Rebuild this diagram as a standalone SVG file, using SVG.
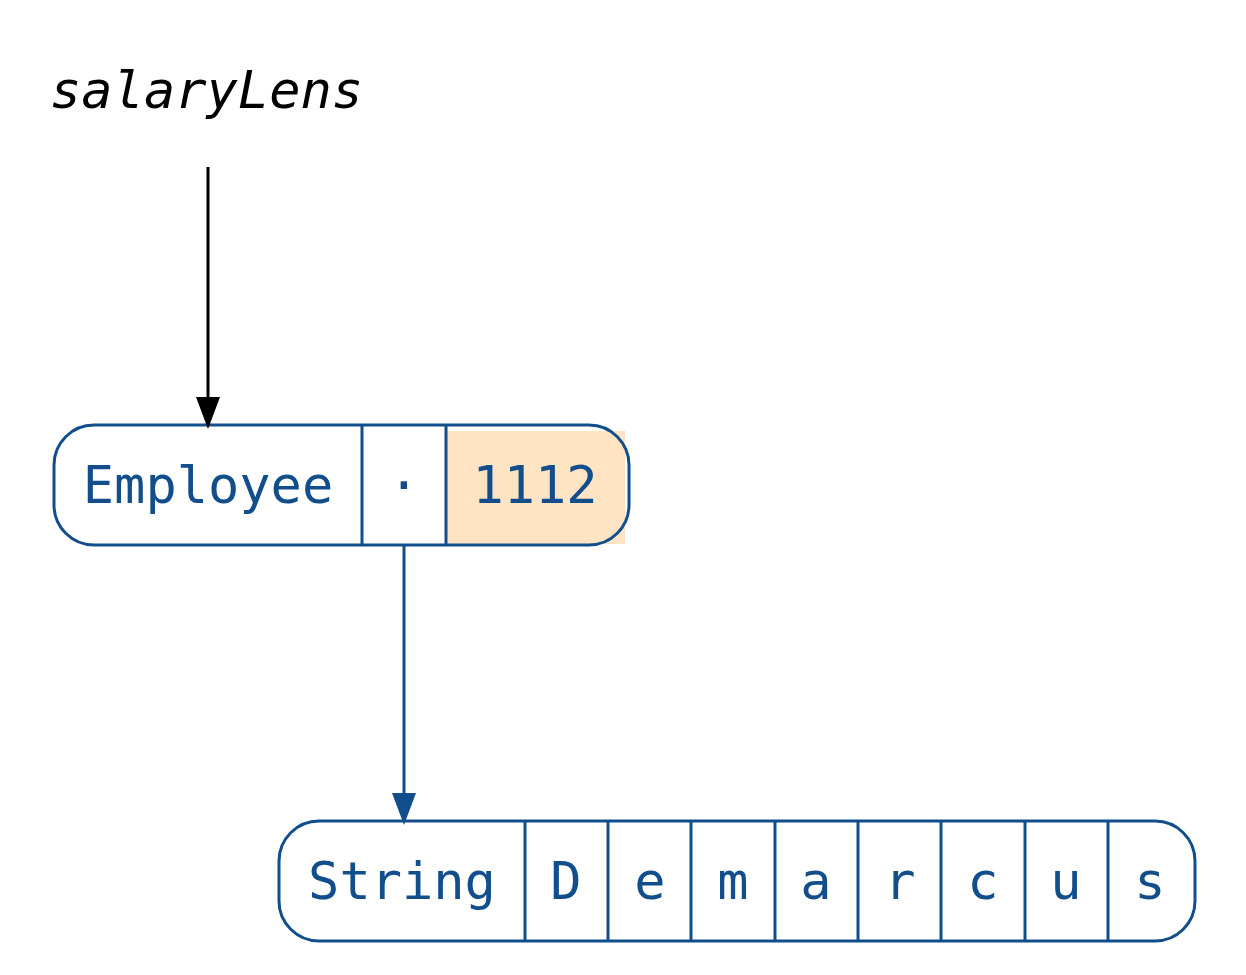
<svg xmlns="http://www.w3.org/2000/svg" width="1246" height="975" viewBox="0 0 1246 975">
<style>
.box{fill:none;stroke:#114e8b;stroke-width:3}
.div{stroke:#114e8b;stroke-width:3}
.t{font-family:"DejaVu Sans Mono",monospace;font-size:52px;fill:#114e8b;text-anchor:middle}
.lbl{font-family:"DejaVu Sans Mono",monospace;font-size:52px;font-style:italic;fill:#000}
</style>
<defs>
<marker id="ab" markerWidth="24" markerHeight="32" refX="12" refY="32" orient="auto-start-reverse" markerUnits="userSpaceOnUse" viewBox="0 0 24 32">
<path d="M0,0 L24,0 L12,32 Z" fill="#000" transform="rotate(0)"/>
</marker>
</defs>
<rect width="1246" height="975" fill="#fff"/>
<text class="lbl" x="50" y="108">salaryLens</text>
<g id="employee">
<rect x="446" y="431" width="179" height="113" fill="#ffe4c4"/>
<rect class="box" x="54" y="425" width="575" height="120" rx="40"/>
<line class="div" x1="362" y1="425" x2="362" y2="545"/>
<line class="div" x1="446" y1="425" x2="446" y2="545"/>
<text class="t" x="208" y="503">Employee</text>
<text class="t" x="404" y="503">·</text>
<text class="t" x="535" y="503">1112</text>
</g>
<g id="string">
<rect class="box" x="279" y="821" width="916" height="120" rx="40"/>
<line class="div" x1="525" y1="821" x2="525" y2="941"/>
<line class="div" x1="608" y1="821" x2="608" y2="941"/>
<line class="div" x1="691" y1="821" x2="691" y2="941"/>
<line class="div" x1="775" y1="821" x2="775" y2="941"/>
<line class="div" x1="858" y1="821" x2="858" y2="941"/>
<line class="div" x1="941" y1="821" x2="941" y2="941"/>
<line class="div" x1="1025" y1="821" x2="1025" y2="941"/>
<line class="div" x1="1108" y1="821" x2="1108" y2="941"/>
<text class="t" x="402" y="899">String</text>
<text class="t" x="566" y="899">D</text>
<text class="t" x="650" y="899">e</text>
<text class="t" x="733" y="899">m</text>
<text class="t" x="816" y="899">a</text>
<text class="t" x="900" y="899">r</text>
<text class="t" x="983" y="899">c</text>
<text class="t" x="1066" y="899">u</text>
<text class="t" x="1150" y="899">s</text>
</g>
<g id="connectors">
<line x1="208" y1="167" x2="208" y2="400" stroke="#000" stroke-width="3"/>
<path d="M196,397 L220,397 L208,429 Z" fill="#000"/>
<line x1="404" y1="545" x2="404" y2="796" stroke="#114e8b" stroke-width="3"/>
<path d="M392,793 L416,793 L404,825 Z" fill="#114e8b"/>
</g>
</svg>
